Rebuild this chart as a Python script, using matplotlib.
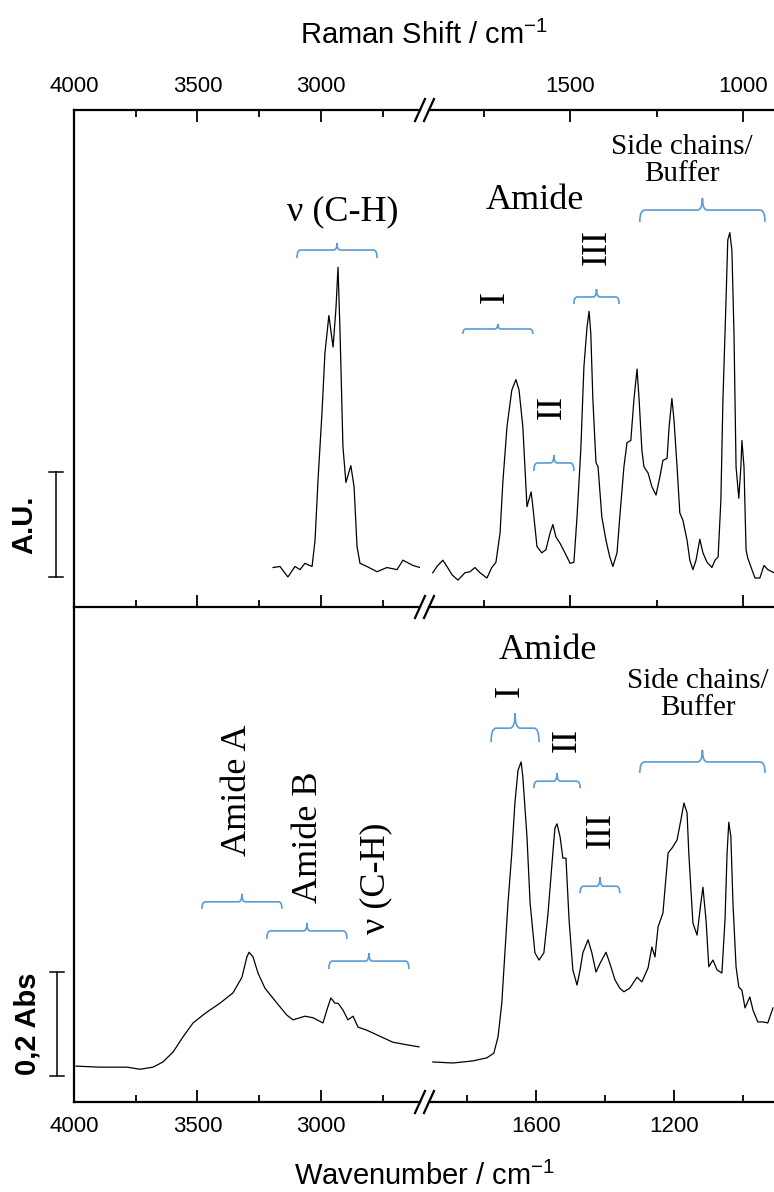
import numpy as np
import matplotlib
matplotlib.use('Agg')
import matplotlib.pyplot as plt
from matplotlib.path import Path
from matplotlib.patches import PathPatch
from matplotlib.lines import Line2D
from matplotlib.transforms import blended_transform_factory

plt.rcParams['font.family'] = ['Liberation Sans', 'DejaVu Sans']
plt.rcParams['mathtext.fontset'] = 'custom'
plt.rcParams['mathtext.rm'] = 'Liberation Sans'
plt.rcParams['mathtext.it'] = 'Liberation Sans:italic'

SERIF = ['Liberation Serif', 'DejaVu Serif']
BLUE = '#5B9BD5'

# ---------------------------------------------------------
# Data (wavenumber in cm-1)
# ---------------------------------------------------------
# Raman, C-H stretching region (A.U.)
raman_ch_wn = [3194, 3166, 3134, 3105, 3085, 3065, 3036, 3024, 3012, 2996,
               2984, 2968, 2951, 2939, 2931, 2923, 2911, 2899, 2879, 2866,
               2854, 2842, 2814, 2773, 2733, 2692, 2668, 2628, 2599]
raman_ch_int = [0.09, 0.10, 0.00, 0.10, 0.07, 0.13, 0.10, 0.35, 0.92, 1.56,
                2.13, 2.49, 2.19, 2.57, 2.95, 2.35, 1.24, 0.90, 1.06, 0.86,
                0.29, 0.13, 0.10, 0.05, 0.09, 0.07, 0.16, 0.11, 0.09]

# Raman, fingerprint region (A.U.)
raman_fp_wn = [1899, 1887, 1870, 1858, 1843, 1826, 1806, 1791, 1777, 1762,
               1742, 1728, 1716, 1704, 1696, 1684, 1670, 1658, 1649, 1638,
               1632, 1626, 1614, 1609, 1597, 1583, 1571, 1559, 1551, 1542,
               1530, 1516, 1501, 1490, 1481, 1470, 1461, 1452, 1446, 1441,
               1435, 1426, 1420, 1409, 1397, 1386, 1377, 1365, 1357, 1345,
               1336, 1325, 1316, 1307, 1301, 1293, 1287, 1275, 1264, 1252,
               1241, 1232, 1220, 1214, 1206, 1200, 1191, 1183, 1174, 1162,
               1154, 1145, 1136, 1125, 1116, 1104, 1090, 1081, 1072, 1064,
               1058, 1049, 1044, 1038, 1032, 1026, 1020, 1012, 1006, 1003,
               997, 991, 986, 974, 965, 951, 939, 928, 910]
raman_fp_int = [0.04, 0.10, 0.16, 0.10, 0.02, -0.03, 0.04, 0.05, 0.09, 0.04,
                -0.01, 0.09, 0.14, 0.42, 0.90, 1.43, 1.78, 1.88, 1.78, 1.43,
                1.05, 0.67, 0.81, 0.67, 0.29, 0.23, 0.26, 0.42, 0.50, 0.38,
                0.32, 0.23, 0.13, 0.14, 0.57, 1.21, 2.00, 2.38, 2.53, 2.32,
                1.69, 1.09, 1.05, 0.57, 0.35, 0.19, 0.10, 0.23, 0.57, 1.05,
                1.28, 1.30, 1.69, 1.98, 1.69, 1.21, 1.05, 0.99, 0.86, 0.78,
                0.95, 1.11, 1.13, 1.43, 1.70, 1.50, 1.05, 0.61, 0.54, 0.35,
                0.16, 0.07, 0.16, 0.36, 0.23, 0.14, 0.09, 0.16, 0.19, 0.73,
                1.69, 2.64, 3.21, 3.28, 3.11, 2.32, 1.05, 0.75, 1.05, 1.30,
                1.05, 0.26, 0.18, 0.07, -0.01, -0.01, 0.11, 0.07, 0.04]

# IR, high wavenumber region (Abs)
ir_hi_wn = [3992, 3895, 3785, 3733, 3680, 3640, 3599, 3559, 3518, 3462,
            3409, 3356, 3320, 3300, 3291, 3275, 3255, 3227, 3178, 3138,
            3113, 3065, 3032, 2992, 2972, 2960, 2943, 2931, 2911, 2891,
            2870, 2850, 2814, 2773, 2709, 2652, 2603]
ir_hi_abs = [0.019, 0.017, 0.017, 0.013, 0.017, 0.027, 0.046, 0.075, 0.102, 0.123,
             0.140, 0.160, 0.190, 0.229, 0.238, 0.229, 0.198, 0.169, 0.140, 0.117,
             0.108, 0.115, 0.112, 0.102, 0.133, 0.150, 0.140, 0.140, 0.127, 0.108,
             0.115, 0.094, 0.088, 0.079, 0.065, 0.060, 0.056]

# IR, fingerprint region (Abs)
ir_lo_wn = [1899, 1841, 1783, 1742, 1722, 1710, 1699, 1690, 1681, 1670,
            1661, 1652, 1643, 1638, 1626, 1617, 1603, 1591, 1577, 1565,
            1551, 1545, 1539, 1530, 1522, 1513, 1504, 1493, 1481, 1472,
            1464, 1449, 1438, 1426, 1414, 1397, 1386, 1371, 1357, 1345,
            1328, 1307, 1293, 1275, 1264, 1255, 1246, 1232, 1217, 1206,
            1191, 1180, 1171, 1162, 1157, 1145, 1133, 1122, 1116, 1107,
            1099, 1087, 1075, 1061, 1052, 1046, 1041, 1035, 1029, 1020,
            1012, 1003, 994, 980, 971, 957, 942, 928, 913]
ir_lo_abs = [0.027, 0.025, 0.029, 0.035, 0.044, 0.075, 0.140, 0.237, 0.333, 0.429,
             0.525, 0.588, 0.604, 0.575, 0.460, 0.333, 0.237, 0.223, 0.237, 0.313,
             0.429, 0.477, 0.485, 0.460, 0.419, 0.419, 0.300, 0.204, 0.175, 0.204,
             0.237, 0.262, 0.237, 0.200, 0.217, 0.238, 0.217, 0.185, 0.169, 0.162,
             0.169, 0.190, 0.181, 0.208, 0.248, 0.229, 0.287, 0.313, 0.429, 0.438,
             0.454, 0.492, 0.525, 0.506, 0.429, 0.294, 0.271, 0.333, 0.363, 0.300,
             0.210, 0.223, 0.204, 0.198, 0.300, 0.429, 0.488, 0.460, 0.333, 0.210,
             0.171, 0.165, 0.131, 0.152, 0.127, 0.104, 0.104, 0.102, 0.131]

# axis ticks
hi_major = [4000, 3500, 3000]
hi_minor = [3750, 3250, 2750]
raman_major = [1500, 1000]
raman_minor = [1750, 1250]
ir_major = [1600, 1200]
ir_minor = [1800, 1400, 1000]

scale_raman = 1.0   # A.U.
scale_ir = 0.2      # Abs

# ---------------------------------------------------------
# Figure layout (pixel based)
# ---------------------------------------------------------
W, H = 774, 1192
fig = plt.figure(figsize=(W / 100, H / 100), dpi=100)


def box(x0, x1, ytop, ybot):
    return [x0 / W, 1 - ybot / H, (x1 - x0) / W, (ybot - ytop) / H]


X_L0, X_L1, X_R0, X_R1 = 74, 420, 429, 774
Y_TOP, Y_MID, Y_BOT = 110, 607, 1102

ax_tl = fig.add_axes(box(X_L0, X_L1, Y_TOP, Y_MID))
ax_tr = fig.add_axes(box(X_R0, X_R1, Y_TOP, Y_MID))
ax_bl = fig.add_axes(box(X_L0, X_L1, Y_MID, Y_BOT))
ax_br = fig.add_axes(box(X_R0, X_R1, Y_MID, Y_BOT))

for ax in (ax_tl, ax_bl):
    ax.set_xlim(4000, 2599)
for ax in (ax_tr, ax_br):
    ax.set_xlim(1910, 910)
for ax in (ax_tl, ax_tr):
    ax.set_ylim(-0.286, 4.448)
for ax in (ax_bl, ax_br):
    ax.set_ylim(-0.05, 0.902)

SPINE_LW = 1.6
for ax in (ax_tl, ax_tr, ax_bl, ax_br):
    ax.patch.set_visible(False)
    ax.set_yticks([])
    ax.spines['right'].set_visible(False)
    for s in ax.spines.values():
        s.set_linewidth(SPINE_LW)
    ax.tick_params(axis='x', which='major', direction='in', length=8.6,
                   width=1.3, labelsize=16)
    ax.tick_params(axis='x', which='minor', direction='in', length=5,
                   width=1.3)
for ax in (ax_tr, ax_br):
    ax.spines['left'].set_visible(False)
for ax in (ax_bl, ax_br):
    ax.spines['top'].set_visible(False)
    ax.tick_params(axis='x', which='both', top=False, bottom=True,
                   labelbottom=True, labeltop=False)
    ax.tick_params(axis='x', which='major', pad=10)
for ax in (ax_tl, ax_tr):
    ax.tick_params(axis='x', which='both', top=True, bottom=True,
                   labeltop=True, labelbottom=False)
    ax.tick_params(axis='x', which='major', pad=9)

for ax in (ax_tl, ax_bl):
    ax.set_xticks(hi_major)
    ax.set_xticks(hi_minor, minor=True)
ax_tr.set_xticks(raman_major)
ax_tr.set_xticks(raman_minor, minor=True)
ax_br.set_xticks(ir_major)
ax_br.set_xticks(ir_minor, minor=True)

# spectra
LINE = dict(color='black', lw=0.9)
ax_tl.plot(raman_ch_wn, raman_ch_int, **LINE)
ax_tr.plot(raman_fp_wn, raman_fp_int, **LINE)
ax_bl.plot(ir_hi_wn, ir_hi_abs, **LINE)
ax_br.plot(ir_lo_wn, ir_lo_abs, **LINE)


# blue band brackets
def bracket(ax, x0, x1, y, hook, tip, r=3.5):
    xl = ax.get_xlim()
    yl = ax.get_ylim()
    sx = (xl[1] - xl[0]) / ax.bbox.width
    sy = (yl[1] - yl[0]) / ax.bbox.height
    xc = (x0 + x1) / 2
    verts = [(x0, y - hook * sy), (x0, y), (x0 + r * sx, y),
             (xc - r * sx, y), (xc, y), (xc, y + tip * sy),
             (xc, y), (xc + r * sx, y),
             (x1 - r * sx, y), (x1, y), (x1, y - hook * sy)]
    codes = [Path.MOVETO, Path.CURVE3, Path.CURVE3,
             Path.LINETO, Path.CURVE3, Path.CURVE3,
             Path.CURVE3, Path.CURVE3,
             Path.LINETO, Path.CURVE3, Path.CURVE3]
    ax.add_patch(PathPatch(Path(verts, codes), fill=False, edgecolor=BLUE,
                           lw=1.2, clip_on=False))


def label(ax, x, y, s, size=26, rot=0, **kw):
    ax.text(x, y, s, ha='center', va='center', fontsize=size, rotation=rot,
            family=SERIF, **kw)


# top panel (Raman)
bracket(ax_tl, 3097, 2773, 3.114, 8, 7)
label(ax_tl, 2911, 3.476, 'ν (C-H)')
bracket(ax_tr, 1812, 1609, 2.362, 5, 5, r=3)
bracket(ax_tr, 1606, 1490, 1.086, 8, 8)
bracket(ax_tr, 1490, 1359, 2.667, 7, 8)
bracket(ax_tr, 1299, 936, 3.495, 12, 12, r=5)
label(ax_tr, 1603, 3.59, 'Amide')
label(ax_tr, 1719, 2.667, 'I', rot=90)
label(ax_tr, 1554, 1.619, 'II', rot=90)
label(ax_tr, 1423, 3.143, 'III', rot=90)
label(ax_tr, 1177, 3.97, 'Side chains/\nBuffer', size=21, linespacing=1.05)

# bottom panel (IR)
bracket(ax_bl, 3482, 3158, 0.335, 7, 8)
bracket(ax_bl, 3219, 2895, 0.279, 8, 8)
bracket(ax_bl, 2968, 2644, 0.221, 8, 8)
label(ax_bl, 3336, 0.550, 'Amide A', rot=90)
label(ax_bl, 3049, 0.460, 'Amide B', rot=90)
label(ax_bl, 2777, 0.381, 'ν (C-H)', rot=90)
bracket(ax_br, 1730, 1591, 0.669, 14, 15, r=5)
bracket(ax_br, 1606, 1472, 0.567, 7, 8)
bracket(ax_br, 1472, 1357, 0.365, 7, 9)
bracket(ax_br, 1299, 936, 0.604, 11, 12, r=5)
label(ax_br, 1565, 0.819, 'Amide')
label(ax_br, 1675, 0.740, 'I', rot=90)
label(ax_br, 1510, 0.646, 'II', rot=90)
label(ax_br, 1412, 0.473, 'III', rot=90)
label(ax_br, 1130, 0.733, 'Side chains/\nBuffer', size=21, linespacing=1.05)


# scale bars on the left
def scale_bar(ax, value, text, x_bar, x_text):
    tr = blended_transform_factory(ax.transAxes, ax.transData)
    w = ax.bbox.width
    bx = (x_bar - X_L0) / w
    cap = 7 / w
    kw = dict(transform=tr, clip_on=False, color='black', lw=1.1)
    ax.plot([bx, bx], [0, value], **kw)
    ax.plot([bx - cap, bx + cap], [0, 0], **kw)
    ax.plot([bx - cap, bx + cap], [value, value], **kw)
    ax.text((x_text - X_L0) / w, value / 2, text, transform=tr, rotation=90,
            ha='center', va='center', fontsize=21, fontweight='bold')


scale_bar(ax_tl, scale_raman, 'A.U.', 56, 24)
scale_bar(ax_bl, scale_ir, '0,2 Abs', 57, 28)

# axis break marks
for yb in (Y_TOP, Y_MID, Y_BOT):
    for xb in (X_L1, X_R0):
        fig.add_artist(Line2D([(xb - 5) / W, (xb + 5) / W],
                              [1 - (yb + 11) / H, 1 - (yb - 11) / H],
                              transform=fig.transFigure, color='black',
                              lw=SPINE_LW))

# axis titles
fig.text(424 / W, 1 - 44 / H, 'Raman Shift / cm$^{-1}$', ha='center',
         va='baseline', fontsize=21)
fig.text(424 / W, 1 - 1185 / H, 'Wavenumber / cm$^{-1}$', ha='center',
         va='baseline', fontsize=21)

fig.savefig('out.png', dpi=100)
